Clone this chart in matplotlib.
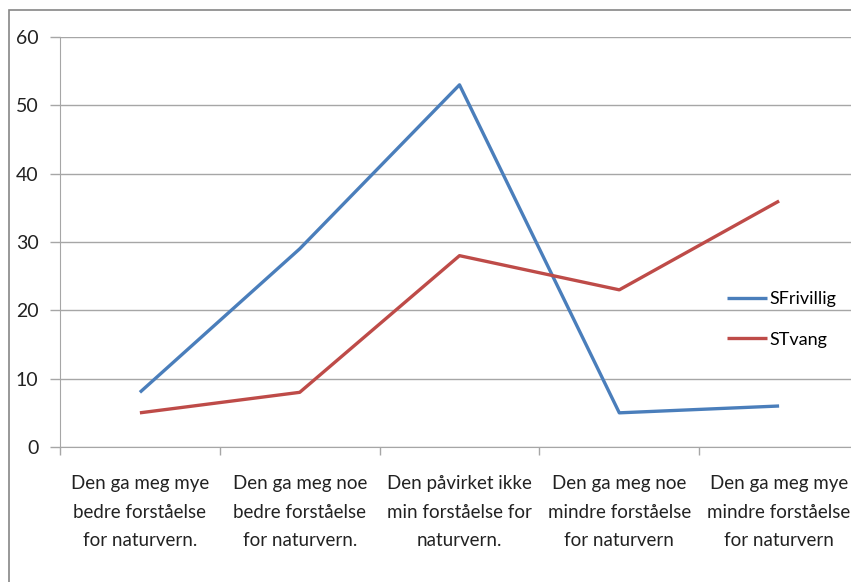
import matplotlib
matplotlib.use("Agg")
import matplotlib.pyplot as plt
from matplotlib.patches import Rectangle

categories = [
    "Den ga meg mye\nbedre forståelse\nfor naturvern.",
    "Den ga meg noe\nbedre forståelse\nfor naturvern.",
    "Den påvirket ikke\nmin forståelse for\nnaturvern.",
    "Den ga meg noe\nmindre forståelse\nfor naturvern",
    "Den ga meg mye\nmindre forståelse\nfor naturvern",
]
sfrivillig = [8, 29, 53, 5, 6]
stvang = [5, 8, 28, 23, 36]
yticks = [0, 10, 20, 30, 40, 50, 60]

plt.rcParams['font.family'] = ['Lato', 'DejaVu Sans']

fig = plt.figure(figsize=(8.51, 5.82), dpi=100)
W, H = 851, 582
ax = fig.add_axes([60 / W, 1 - 447 / H, (859 - 60) / W, (447 - 37) / H])

# chart border
fig.patches.append(Rectangle((9 / W, -0.1), 1.2, 1 - 10 / H + 0.1, transform=fig.transFigure,
                             fill=False, edgecolor='#868686', lw=1.2, zorder=0))

x = [i + 0.5 for i in range(len(categories))]
ax.plot(x, sfrivillig, color='#4A7EBB', lw=2.4, label='SFrivillig', solid_capstyle='butt', zorder=3)
ax.plot(x, stvang, color='#BE4B48', lw=2.4, label='STvang', solid_capstyle='butt', zorder=3)

ax.set_xlim(0, 5)
ax.set_ylim(0, 60)
ax.set_yticks(yticks)
ax.set_yticklabels([str(v) for v in yticks], fontsize=14, color='#222222')
ax.yaxis.grid(True, color='#a6a6a6', lw=1)
ax.set_axisbelow(True)

ax.set_xticks(x)
ax.set_xticklabels(categories, fontsize=13.5, color='#222222', linespacing=1.8)
ax.set_xticks(range(0, 6), minor=True)
ax.tick_params(axis='x', which='major', length=0, pad=20.5)
ax.tick_params(axis='x', which='minor', length=6, color='#a6a6a6', width=1)
ax.tick_params(axis='y', length=7, color='#a6a6a6', width=1, pad=8.5)

for s in ['top', 'right']:
    ax.spines[s].set_visible(False)
ax.spines['left'].set_color('#a6a6a6')
ax.spines['bottom'].set_color('#a6a6a6')

leg = fig.legend(loc='upper left', bbox_to_anchor=(711 / W, 1 - 275 / H), frameon=False,
                 fontsize=13, handlelength=2.2, handletextpad=0.15, labelspacing=1.35)

fig.savefig('out.png', dpi=100)
